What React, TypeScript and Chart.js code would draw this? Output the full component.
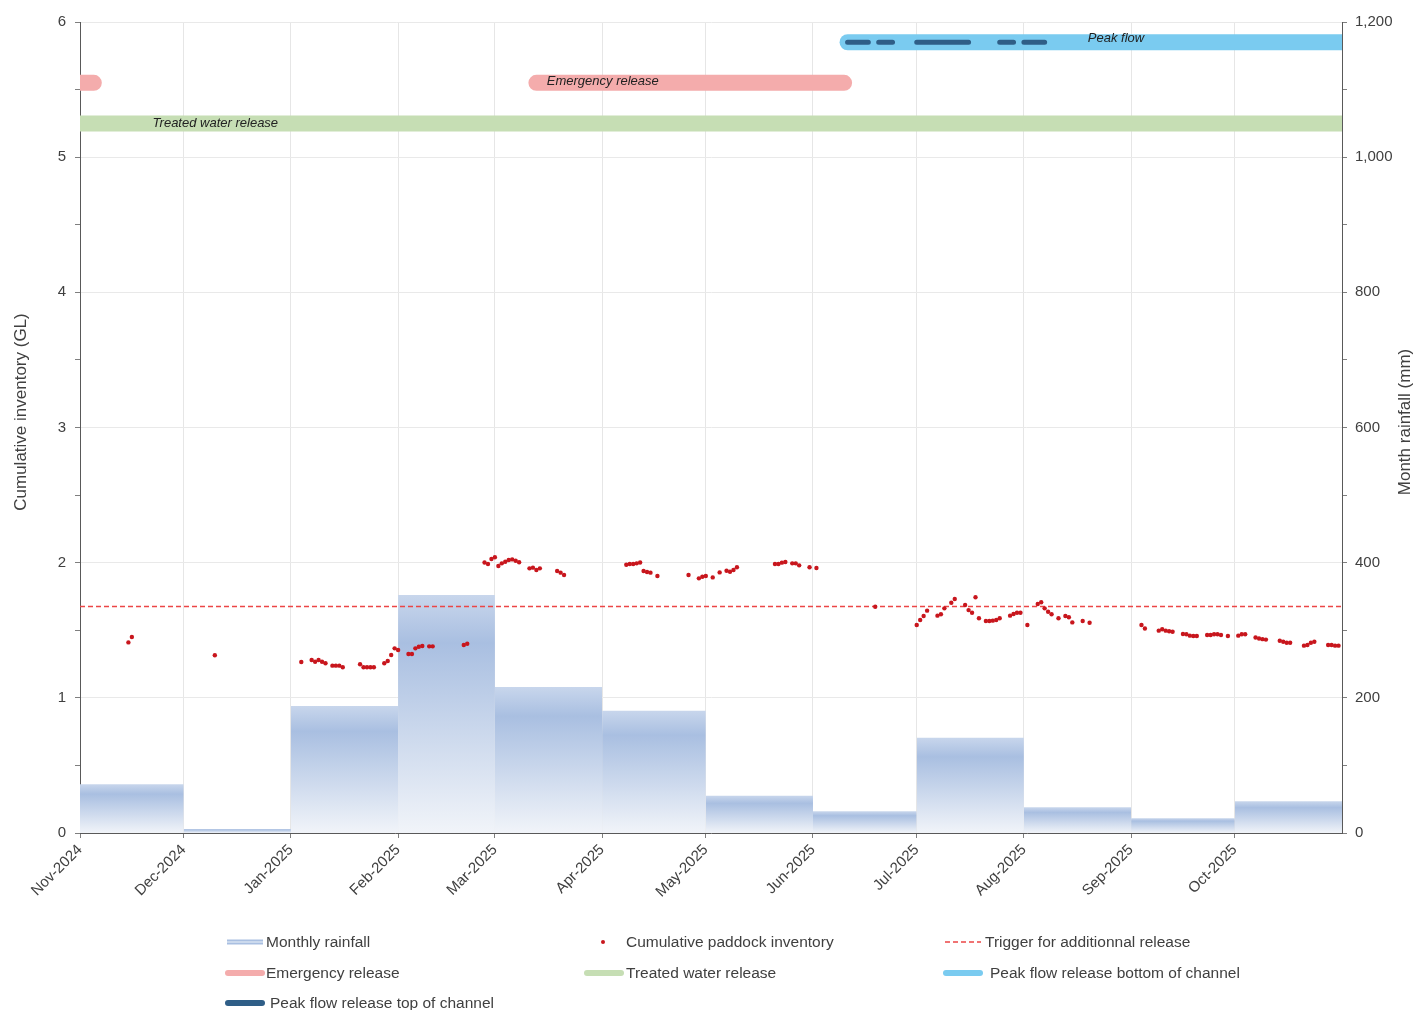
import React, { useEffect, useRef } from 'react';
import { Chart, registerables } from 'chart.js';

Chart.register(...registerables);

const FONT = "'Liberation Sans', Arial, Helvetica, sans-serif";
const TEXT = '#404040';

// ---------------- data ----------------
// x values are days counted from 1 Nov 2024
const MONTH_LABELS = ['Nov-2024', 'Dec-2024', 'Jan-2025', 'Feb-2025', 'Mar-2025', 'Apr-2025', 'May-2025', 'Jun-2025', 'Jul-2025', 'Aug-2025', 'Sep-2025', 'Oct-2025'];
const MONTH_START_DAYS = [0, 30, 61, 92, 120, 151, 181, 212, 242, 273, 304, 334];
const END_DAY = 365;

const MONTHLY_RAINFALL_MM = [72, 6, 188, 352, 216, 181, 55, 32, 141, 38, 22, 47];

const INVENTORY_DAYS = [
  14, 15, 39, 64, 67, 68, 69, 70, 71, 73, 74, 75, 76, 81, 82, 83, 84, 85, 88, 89, 90, 91, 92,
  95, 96, 97, 98, 99, 101, 102, 111, 112, 117, 118, 119, 120, 121, 122, 123, 124, 125, 126, 127,
  130, 131, 132, 133, 138, 139, 140, 158, 159, 160, 161, 162, 163, 164, 165, 167, 176, 179, 180,
  181, 183, 185, 187, 188, 189, 190, 201, 202, 203, 204, 206, 207, 208, 211, 213, 230, 242, 243,
  244, 245, 248, 249, 250, 252, 253, 256, 257, 258, 259, 260, 262, 263, 264, 265, 266, 269, 270,
  271, 272, 274, 277, 278, 279, 280, 281, 283, 285, 286, 287, 290, 292, 307, 308, 312, 313, 314,
  315, 316, 319, 320, 321, 322, 323, 326, 327, 328, 329, 330, 332, 335, 336, 337, 340, 341, 342,
  343, 347, 348, 349, 350, 354, 355, 356, 357, 361, 362, 363, 364,
];
const INVENTORY_GL = [
  1.41, 1.45, 1.315, 1.265, 1.28, 1.267, 1.28, 1.267, 1.256, 1.238, 1.238, 1.238, 1.226, 1.248, 1.226, 1.226, 1.226, 1.226, 1.256, 1.273, 1.317, 1.366, 1.354,
  1.324, 1.324, 1.366, 1.378, 1.383, 1.381, 1.381, 1.391, 1.4, 2.001, 1.99, 2.027, 2.04, 1.975, 1.995, 2.007, 2.02, 2.024, 2.014, 2.003,
  1.958, 1.963, 1.946, 1.958, 1.938, 1.926, 1.909, 1.985, 1.99, 1.99, 1.995, 2.001, 1.938, 1.931, 1.926, 1.901, 1.909, 1.884, 1.896,
  1.901, 1.891, 1.928, 1.94, 1.933, 1.946, 1.966, 1.99, 1.99, 2.0, 2.005, 1.995, 1.995, 1.98, 1.966, 1.961, 1.674, 1.539, 1.576,
  1.605, 1.645, 1.608, 1.618, 1.662, 1.704, 1.731, 1.687, 1.649, 1.63, 1.744, 1.589, 1.568, 1.568, 1.571, 1.576, 1.589, 1.608, 1.62,
  1.63, 1.63, 1.539, 1.694, 1.707, 1.662, 1.637, 1.618, 1.589, 1.605, 1.596, 1.558, 1.568, 1.556, 1.539, 1.513, 1.497, 1.507, 1.497,
  1.493, 1.489, 1.472, 1.47, 1.46, 1.457, 1.457, 1.465, 1.465, 1.47, 1.47, 1.465, 1.457, 1.46, 1.47, 1.47, 1.446, 1.439, 1.434,
  1.431, 1.422, 1.415, 1.408, 1.408, 1.386, 1.391, 1.408, 1.415, 1.391, 1.391, 1.386, 1.386,
];

const TRIGGER_GL = 1.675;

const TREATED_LEVEL_GL = 5.25;
const TREATED_PERIODS = [[0, 365]];
const EMERGENCY_LEVEL_GL = 5.55;
const EMERGENCY_PERIODS = [[0, 4], [132, 221]];
const PEAK_LEVEL_GL = 5.85;
const PEAK_BOTTOM_PERIODS = [[222, 365]];
const PEAK_TOP_PERIODS = [[222, 228], [231, 235], [242, 257], [266, 270], [273, 279]];

const BAND_LABEL_TEXTS = ['Treated water release', 'Emergency release', 'Peak flow'];
const BAND_LABEL_DAYS = [21, 135, 291.5];
const BAND_LABEL_LEVELS = [TREATED_LEVEL_GL, EMERGENCY_LEVEL_GL, PEAK_LEVEL_GL];

// ---------------- colours ----------------
const C_RAIN = '#b4c7e7';
const C_DOT = '#c8161d';
const C_TRIGGER = '#ec4646';
const C_EMERGENCY = '#f4acac';
const C_TREATED = '#c6deb4';
const C_PEAK_BOTTOM = '#7acbf0';
const C_PEAK_TOP = '#2f5e87';

const periodData = (periods: number[][], level: number) =>
  periods.flatMap(([s, e]) => [
    { x: s, y: level },
    { x: e, y: level },
    { x: e, y: null as any },
  ]);

const rainGradient = (c: any) => {
  const chart = c.chart;
  const area = chart && chart.chartArea;
  if (!area || !c.p0) return C_RAIN;
  const top = c.p0.y;
  const bottom = area.bottom;
  if (!(bottom - top > 0.5)) return C_RAIN;
  const g = chart.ctx.createLinearGradient(0, top, 0, bottom);
  g.addColorStop(0, '#c8d6ec');
  g.addColorStop(0.2, '#a9bfe1');
  g.addColorStop(1, '#f1f4f9');
  return g;
};

const overlayPlugin = {
  id: 'overlayText',
  afterDatasetsDraw(chart: any) {
    const { ctx, scales } = chart;
    ctx.save();
    ctx.font = `italic 13px ${FONT}`;
    ctx.fillStyle = '#222222';
    ctx.textAlign = 'left';
    ctx.textBaseline = 'middle';
    const dys = [0, -1.5, -3.5];
    BAND_LABEL_TEXTS.forEach((t, i) => {
      const x = scales.x.getPixelForValue(BAND_LABEL_DAYS[i]);
      const y = scales.y.getPixelForValue(BAND_LABEL_LEVELS[i]) + dys[i];
      ctx.fillText(t, x, y);
    });
    ctx.restore();
  },
  afterDraw(chart: any) {
    const { ctx } = chart;
    ctx.save();
    ctx.font = `17px ${FONT}`;
    ctx.fillStyle = TEXT;
    ctx.textAlign = 'center';
    ctx.textBaseline = 'middle';
    ctx.translate(21, 412);
    ctx.rotate(-Math.PI / 2);
    ctx.fillText('Cumulative inventory (GL)', 0, 0);
    ctx.restore();
    ctx.save();
    ctx.font = `17px ${FONT}`;
    ctx.fillStyle = TEXT;
    ctx.textAlign = 'center';
    ctx.textBaseline = 'middle';
    ctx.translate(1405, 422);
    ctx.rotate(-Math.PI / 2);
    ctx.fillText('Month rainfall (mm)', 0, 0);
    ctx.restore();
  },
};

function LegendSwatch({ kind, color }: { kind: string; color: string }) {
  if (kind === 'dot') {
    return (
      <svg width={40} height={10} style={{ display: 'block' }}>
        <circle cx={20} cy={5} r={2} fill={color} />
      </svg>
    );
  }
  if (kind === 'dash') {
    return (
      <svg width={36} height={10} style={{ display: 'block' }}>
        <line x1={0} y1={5} x2={36} y2={5} stroke={color} strokeWidth={1.5} strokeDasharray="5 3" />
      </svg>
    );
  }
  if (kind === 'rain') {
    return (
      <svg width={36} height={10} style={{ display: 'block' }}>
        <rect x={0} y={2.5} width={36} height={5} fill="#a9bfe1" />
        <rect x={0} y={4.3} width={36} height={1.4} fill="#dbe4f3" />
      </svg>
    );
  }
  return (
    <svg width={40} height={10} style={{ display: 'block' }}>
      <line x1={3} y1={5} x2={37} y2={5} stroke={color} strokeWidth={6} strokeLinecap="round" />
    </svg>
  );
}

const LEGEND_ITEMS = [
  { label: 'Monthly rainfall', kind: 'rain', color: C_RAIN, sx: 227, tx: 266, y: 942 },
  { label: 'Cumulative paddock inventory', kind: 'dot', color: C_DOT, sx: 583, tx: 626, y: 942 },
  { label: 'Trigger for additionnal release', kind: 'dash', color: C_TRIGGER, sx: 945, tx: 985, y: 942 },
  { label: 'Emergency release', kind: 'line', color: C_EMERGENCY, sx: 225, tx: 266, y: 973 },
  { label: 'Treated water release', kind: 'line', color: C_TREATED, sx: 584, tx: 626, y: 973 },
  { label: 'Peak flow release bottom of channel', kind: 'line', color: C_PEAK_BOTTOM, sx: 943, tx: 990, y: 973 },
  { label: 'Peak flow release top of channel', kind: 'line', color: C_PEAK_TOP, sx: 225, tx: 270, y: 1003 },
];

function Legend() {
  return (
    <>
      {LEGEND_ITEMS.map((it) => (
        <React.Fragment key={it.label}>
          <div style={{ position: 'absolute', left: it.sx, top: it.y - 5 }}>
            <LegendSwatch kind={it.kind} color={it.color} />
          </div>
          <div
            style={{
              position: 'absolute',
              left: it.tx,
              top: it.y - 9,
              height: 18,
              lineHeight: '18px',
              fontFamily: FONT,
              fontSize: 15.5,
              color: TEXT,
              whiteSpace: 'nowrap',
            }}
          >
            {it.label}
          </div>
        </React.Fragment>
      ))}
    </>
  );
}

export default function App() {
  const canvasRef = useRef<HTMLCanvasElement | null>(null);

  useEffect(() => {
    document.body.style.margin = '0';
    document.body.style.overflow = 'hidden';
    const canvas = canvasRef.current;
    if (!canvas) return;

    const rainData = MONTH_START_DAYS.map((d, i) => ({ x: d, y: MONTHLY_RAINFALL_MM[i] }));
    rainData.push({ x: END_DAY, y: MONTHLY_RAINFALL_MM[MONTHLY_RAINFALL_MM.length - 1] });

    const inventoryData = INVENTORY_DAYS.map((d, i) => ({ x: d, y: INVENTORY_GL[i] }));

    const bandCommon = {
      type: 'line' as const,
      yAxisID: 'y',
      pointRadius: 0,
      pointHoverRadius: 0,
      borderCapStyle: 'round' as const,
      borderJoinStyle: 'round' as const,
      spanGaps: false,
      fill: false,
      clip: 0,
    };

    const chart = new Chart(canvas, {
      type: 'line',
      data: {
        datasets: [
          {
            type: 'line',
            label: 'Monthly rainfall',
            data: rainData,
            yAxisID: 'y2',
            stepped: true,
            fill: 'origin',
            borderWidth: 0,
            pointRadius: 0,
            backgroundColor: C_RAIN,
            segment: { backgroundColor: rainGradient },
            order: 10,
            clip: 0,
          } as any,
          {
            type: 'line',
            label: 'Trigger for additionnal release',
            data: [
              { x: 0, y: TRIGGER_GL },
              { x: END_DAY, y: TRIGGER_GL },
            ],
            yAxisID: 'y',
            borderColor: C_TRIGGER,
            borderWidth: 1.5,
            borderDash: [5, 3],
            pointRadius: 0,
            fill: false,
            order: 6,
          },
          {
            ...bandCommon,
            label: 'Treated water release',
            data: periodData(TREATED_PERIODS, TREATED_LEVEL_GL),
            borderColor: C_TREATED,
            borderWidth: 16,
            order: 5,
          } as any,
          {
            ...bandCommon,
            label: 'Emergency release',
            data: periodData(EMERGENCY_PERIODS, EMERGENCY_LEVEL_GL),
            borderColor: C_EMERGENCY,
            borderWidth: 16,
            order: 4,
          } as any,
          {
            ...bandCommon,
            label: 'Peak flow release bottom of channel',
            data: periodData(PEAK_BOTTOM_PERIODS, PEAK_LEVEL_GL),
            borderColor: C_PEAK_BOTTOM,
            borderWidth: 16,
            order: 3,
          } as any,
          {
            ...bandCommon,
            label: 'Peak flow release top of channel',
            data: periodData(PEAK_TOP_PERIODS, PEAK_LEVEL_GL),
            borderColor: C_PEAK_TOP,
            borderWidth: 5,
            order: 2,
          } as any,
          {
            type: 'line',
            label: 'Cumulative paddock inventory',
            data: inventoryData,
            yAxisID: 'y',
            showLine: false,
            pointRadius: 2.2,
            pointHoverRadius: 2.2,
            pointBackgroundColor: C_DOT,
            pointBorderColor: C_DOT,
            pointBorderWidth: 0,
            order: 1,
          },
        ],
      },
      options: {
        responsive: false,
        animation: false,
        devicePixelRatio: 1,
        events: [],
        layout: { padding: { top: 22, left: 0, right: 0, bottom: 0 } },
        plugins: {
          legend: { display: false },
          tooltip: { enabled: false },
        },
        scales: {
          x: {
            type: 'linear',
            min: 0,
            max: END_DAY,
            afterBuildTicks: (scale: any) => {
              scale.ticks = MONTH_START_DAYS.map((v) => ({ value: v }));
            },
            afterFit: (scale: any) => {
              scale.height = 177;
            },
            ticks: {
              autoSkip: false,
              maxRotation: 45,
              minRotation: 45,
              padding: 3,
              color: TEXT,
              font: { family: FONT, size: 15 },
              callback: (_v: any, i: number) => MONTH_LABELS[i] ?? '',
            },
            grid: {
              color: '#e6e6e6',
              tickColor: '#7f7f7f',
              tickLength: 5,
            },
            border: { color: '#595959', width: 1 },
          },
          y: {
            type: 'linear',
            position: 'left',
            min: 0,
            max: 6,
            afterFit: (scale: any) => {
              scale.width = 80;
            },
            ticks: {
              stepSize: 0.5,
              autoSkip: false,
              padding: 9,
              color: TEXT,
              font: { family: FONT, size: 15 },
              callback: (v: any) => (Number.isInteger(v) ? String(v) : ''),
            },
            grid: {
              color: (c: any) =>
                c.tick && Number.isInteger(c.tick.value) && c.tick.value !== 0 ? '#e9e9e9' : 'rgba(0,0,0,0)',
              tickColor: '#7f7f7f',
              tickLength: 5,
            },
            border: { color: '#595959', width: 1 },
          },
          y2: {
            type: 'linear',
            position: 'right',
            min: 0,
            max: 1200,
            afterFit: (scale: any) => {
              scale.width = 73;
            },
            ticks: {
              stepSize: 100,
              autoSkip: false,
              padding: 8,
              color: TEXT,
              font: { family: FONT, size: 15 },
              callback: (v: any) => (v % 200 === 0 ? Number(v).toLocaleString('en-US') : ''),
            },
            grid: {
              drawOnChartArea: false,
              color: '#7f7f7f',
              tickColor: '#7f7f7f',
              tickLength: 5,
            },
            border: { color: '#595959', width: 1 },
          },
        },
      } as any,
      plugins: [overlayPlugin],
    });

    return () => {
      chart.destroy();
    };
  }, []);

  return (
    <div style={{ position: 'relative', width: 1415, height: 1010, overflow: 'hidden', background: '#ffffff' }}>
      <canvas ref={canvasRef} width={1415} height={1010} style={{ display: 'block', width: 1415, height: 1010 }} />
      <Legend />
    </div>
  );
}
